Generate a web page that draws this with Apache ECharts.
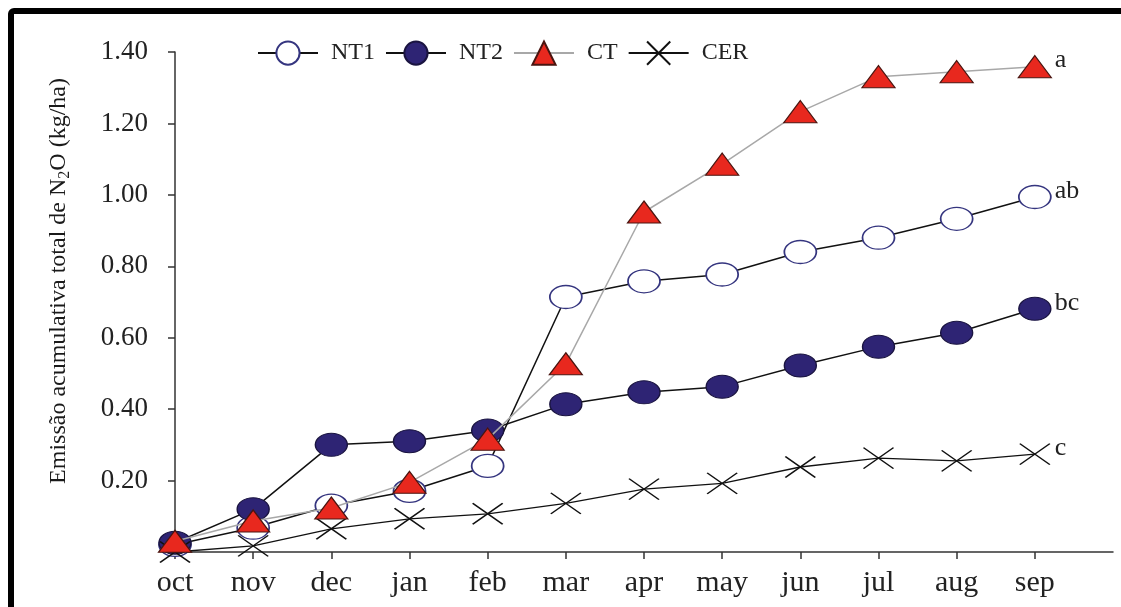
<!DOCTYPE html>
<html>
<head>
<meta charset="utf-8">
<script src="https://cdn.jsdelivr.net/npm/echarts@6/dist/echarts.min.js"></script>
<style>
html,body{margin:0;padding:0;background:#fff;}
#chart{width:1121px;height:607px;}
</style>
</head>
<body>
<div id="chart"></div>
<script>
// ---- data ----
const months = ['oct','nov','dec','jan','feb','mar','apr','may','jun','jul','aug','sep'];
const seriesNames = ['NT1','NT2','CT','CER'];
const nt1 = [0.02, 0.068, 0.13, 0.171, 0.241, 0.714, 0.758, 0.777, 0.840, 0.880, 0.933, 0.994];
const nt2 = [0.026, 0.12, 0.30, 0.31, 0.34, 0.414, 0.447, 0.463, 0.522, 0.575, 0.614, 0.681];
const ct  = [0.03, 0.087, 0.123, 0.195, 0.316, 0.527, 0.952, 1.086, 1.233, 1.331, 1.345, 1.359];
const cer = [0.0, 0.017, 0.065, 0.093, 0.107, 0.136, 0.176, 0.192, 0.238, 0.263, 0.255, 0.274];
const letters = ['ab','bc','a','c'];
const yTicks = [0, 0.2, 0.4, 0.6, 0.8, 1.0, 1.2, 1.4];

const SERIF = "'Liberation Serif','Times New Roman',serif";
const chart = echarts.init(document.getElementById('chart'));

function endLbl(txt){
  return {show:true, formatter: txt, fontFamily: SERIF, fontSize: 26, color:'#222', distance: 20, offset:[0,-6]};
}

const option = {
  backgroundColor:'#fff',
  animation:false,
  graphic:[{
    type:'rect', shape:{x:11,y:11,width:1200,height:700,r:3},
    style:{fill:'none',stroke:'#000',lineWidth:6}, z:100
  }],
  legend:{
    left:252, top:34, itemWidth:60, itemHeight:29, itemGap:10,
    textStyle:{fontFamily:SERIF,fontSize:24,color:'#222',padding:[0,0,0,8]},
    data: seriesNames
  },
  grid:{left:175, right:8, top:52, bottom:55, containLabel:false},
  xAxis:{
    type:'category', boundaryGap:false,
    data: months.concat(['']),
    axisLine:{lineStyle:{color:'#333',width:1.5}},
    axisTick:{show:true, length:7, lineStyle:{color:'#333',width:1.5},
      interval:function(i){return i < months.length;}},
    axisLabel:{fontFamily:SERIF,fontSize:30,color:'#222',margin:16,interval:0},
    splitLine:{show:false}
  },
  yAxis:{
    type:'value', min:yTicks[0], max:yTicks[yTicks.length-1], interval:0.2,
    name:'Emissão acumulativa total de N{sub|2}O (kg/ha)',
    nameLocation:'middle', nameRotate:90, nameGap:102,
    nameTextStyle:{fontFamily:SERIF,fontSize:24,color:'#1a1a1a',padding:[0,0,0,42],
      rich:{sub:{fontFamily:SERIF,fontSize:16,color:'#1a1a1a',verticalAlign:'bottom',padding:[12,0,0,0]}}},
    axisLine:{show:true,lineStyle:{color:'#333',width:1.5}},
    axisTick:{show:true,length:7,inside:false,lineStyle:{color:'#333',width:1.5}},
    axisLabel:{fontFamily:SERIF,fontSize:27,color:'#222',margin:27,showMinLabel:false,
      formatter:function(v){return v.toFixed(2);}},
    splitLine:{show:false}
  },
  series:[
    {
      name:'NT1', type:'line', data:nt1, clip:false, z:3,
      symbol:'circle', symbolSize:[32,23],
      itemStyle:{color:'#ffffff',borderColor:'#35357f',borderWidth:1.5},
      lineStyle:{color:'#111',width:1.5},
      endLabel: endLbl(letters[0])
    },
    {
      name:'NT2', type:'line', data:nt2, clip:false, z:4,
      symbol:'circle', symbolSize:[32,23],
      itemStyle:{color:'#2e2474',borderColor:'#1a1440',borderWidth:1.2},
      lineStyle:{color:'#111',width:1.5},
      endLabel: endLbl(letters[1])
    },
    {
      name:'CT', type:'line', data:ct, clip:false, z:6,
      symbol:'triangle', symbolSize:[33,22],
      itemStyle:{color:'#e8281e',borderColor:'#4a1510',borderWidth:1.2},
      lineStyle:{color:'#a8a8a8',width:1.5},
      endLabel: endLbl(letters[2])
    },
    {
      name:'CER', type:'line', data:cer, clip:false, z:5,
      symbol:'path://M0,0L30,21M30,0L0,21', symbolSize:[30,21], symbolKeepAspect:false,
      itemStyle:{color:'none',borderColor:'#111',borderWidth:1.5},
      lineStyle:{color:'#111',width:1.3},
      endLabel: endLbl(letters[3])
    }
  ]
};
chart.setOption(option);
</script>
</body>
</html>
